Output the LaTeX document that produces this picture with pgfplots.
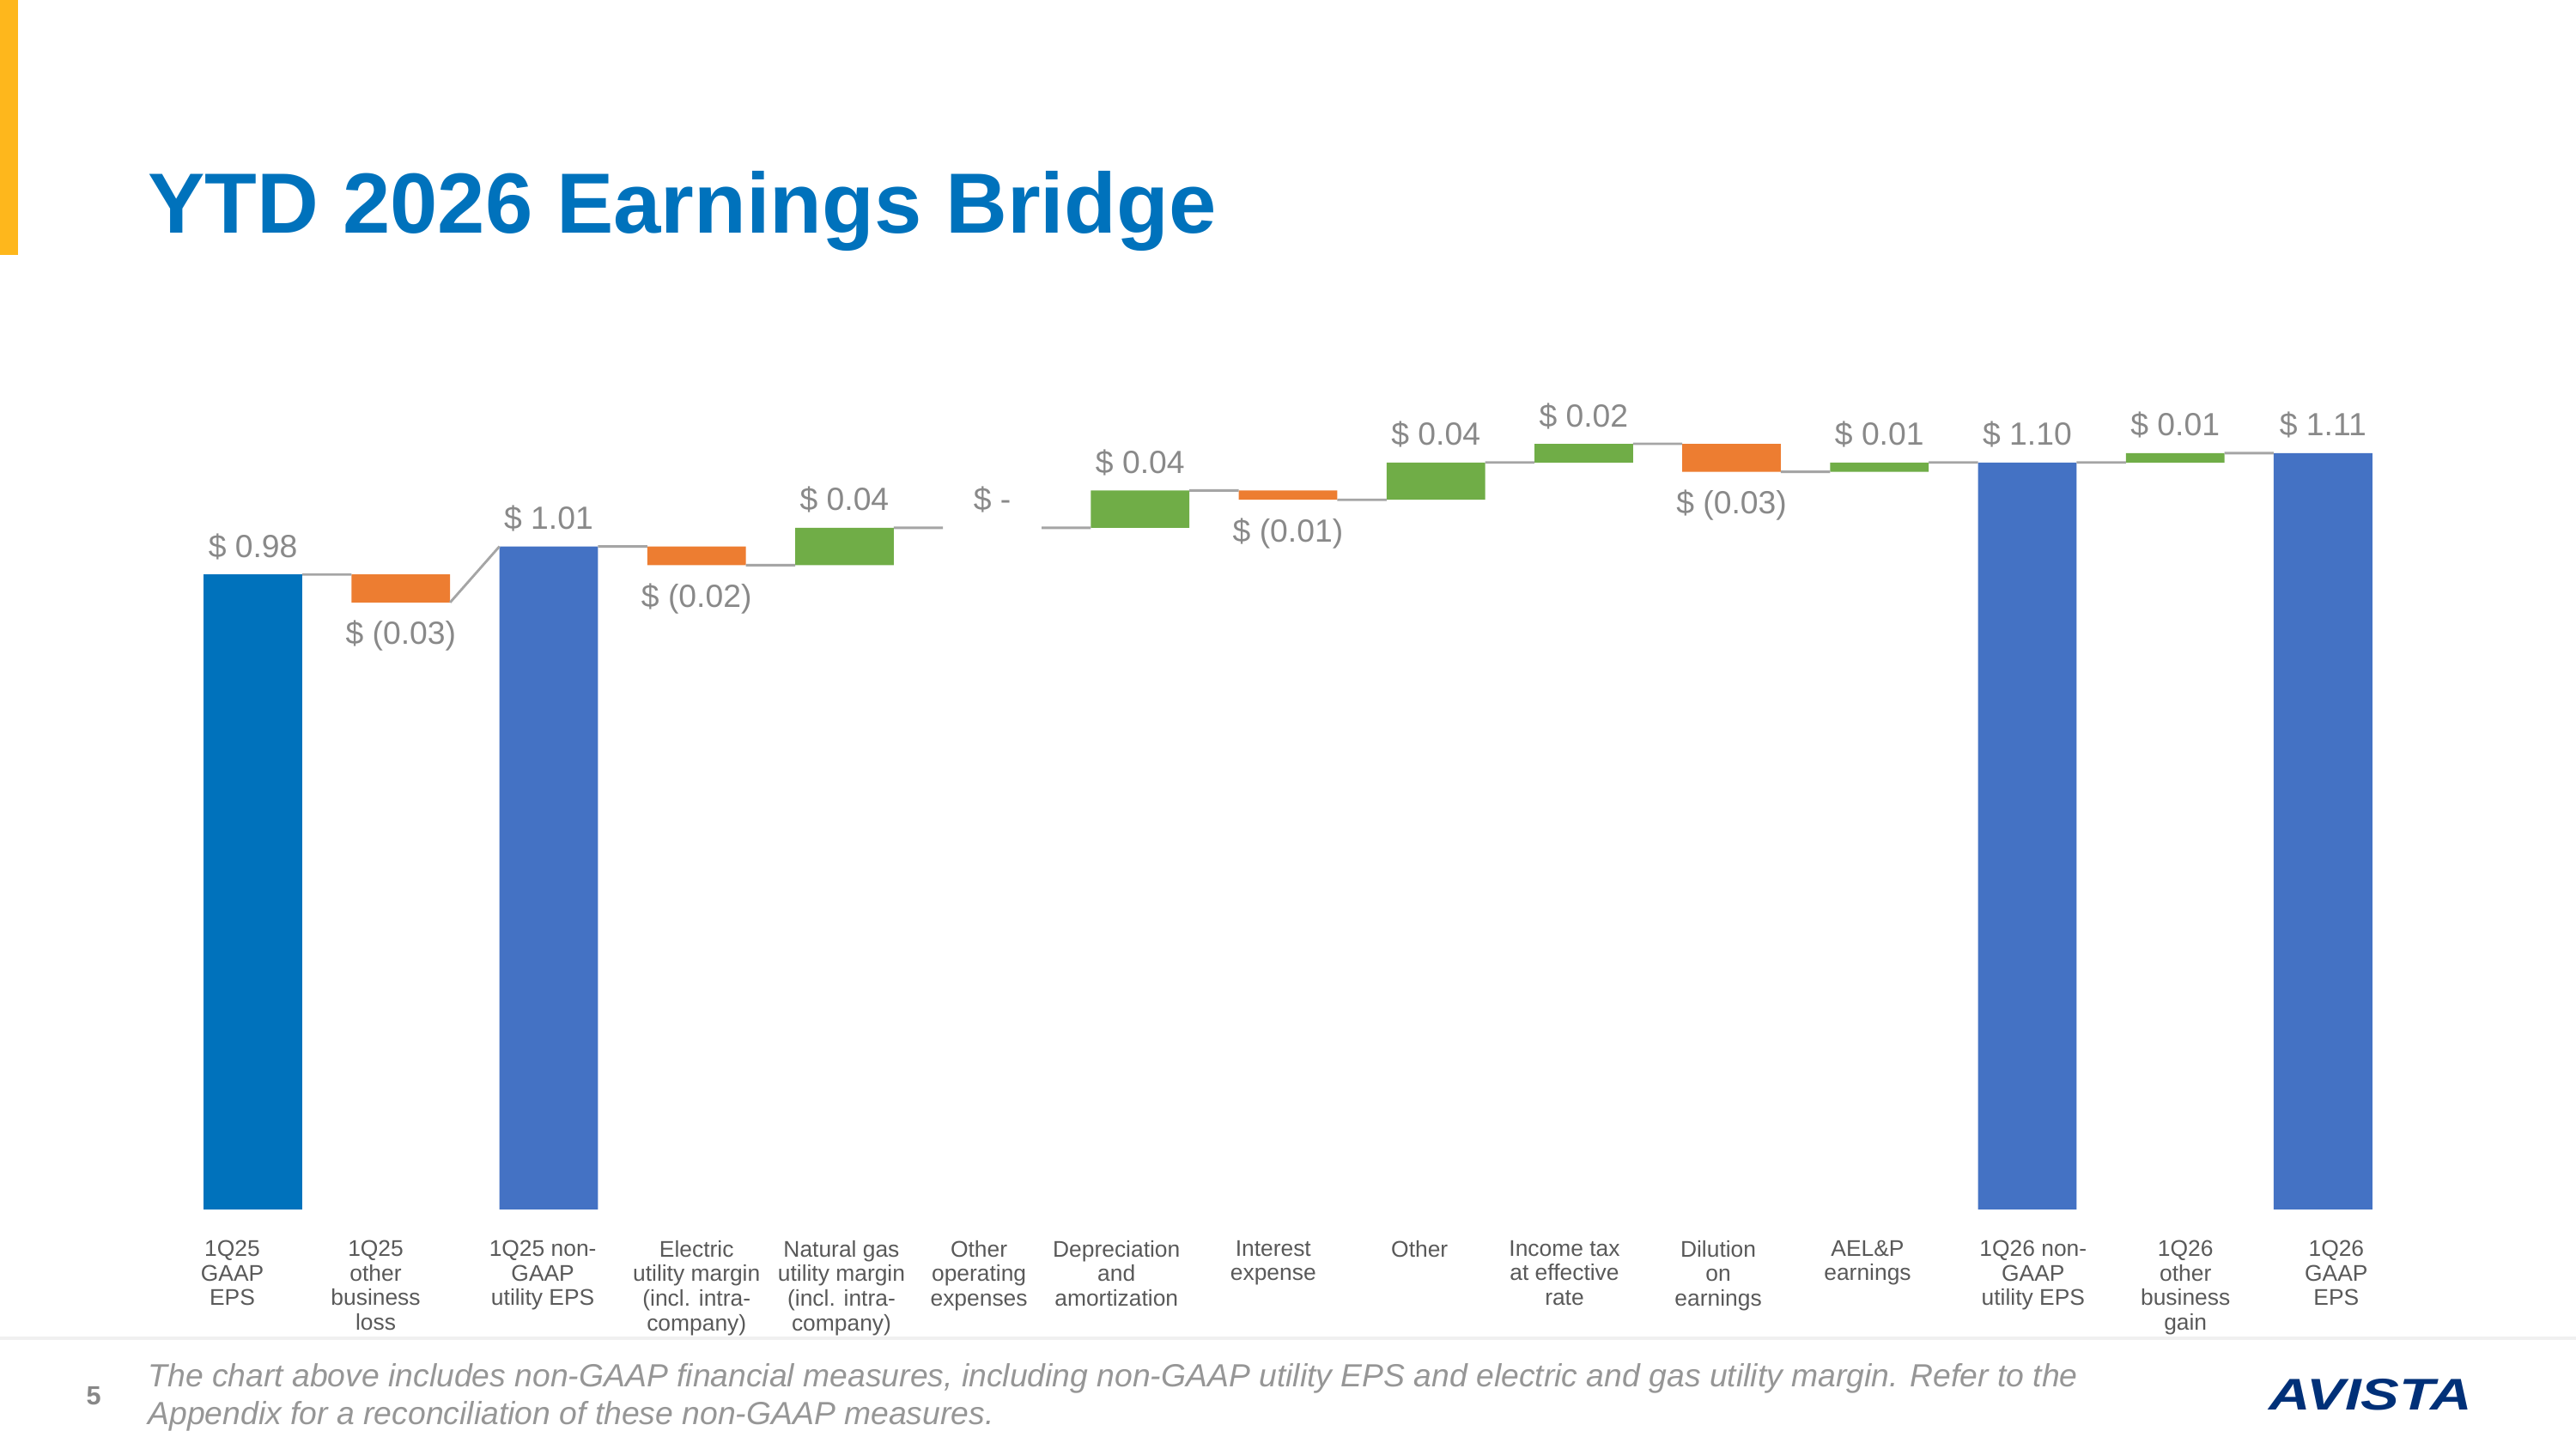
\documentclass[border=0pt]{standalone}
\usepackage{fontspec}
\setmainfont{Liberation Sans}
\usepackage{graphicx}
\usepackage{pgfplots}
\usepackage{pgfplotstable}
\pgfplotsset{compat=1.18}

\definecolor{avblue}{RGB}{0,114,188}
\definecolor{totblue}{RGB}{68,114,196}
\definecolor{negor}{RGB}{237,125,49}
\definecolor{posgr}{RGB}{112,173,71}
\definecolor{lblgray}{RGB}{137,137,137}
\definecolor{catgray}{RGB}{89,89,89}
\definecolor{conngray}{RGB}{165,165,165}
\definecolor{avgold}{RGB}{254,183,28}
\definecolor{footgray}{RGB}{150,150,150}
\definecolor{navy}{RGB}{0,48,120}

\pgfplotstableread{
x base first total neg pos
0 0 0.98 0 0 0
1 0.95 0 0 0.03 0
2 0 0 1.01 0 0
3 0.99 0 0 0.02 0
4 0.99 0 0 0 0.04
5 1.03 0 0 0 0
6 1.03 0 0 0 0.04
7 1.06 0 0 0.01 0
8 1.06 0 0 0 0.04
9 1.10 0 0 0 0.02
10 1.09 0 0 0.03 0
11 1.09 0 0 0 0.01
12 0 0 1.10 0 0
13 1.10 0 0 0 0.01
14 0 0 1.11 0 0
}\bars

\pgfplotstableread{
x y
0.3333 0.98
0.6667 0.98
1 nan
1.3333 0.95
1.6667 1.01
2 nan
2.3333 1.01
2.6667 1.01
3 nan
3.3333 0.99
3.6667 0.99
4 nan
4.3333 1.03
4.6667 1.03
5 nan
5.3333 1.03
5.6667 1.03
6 nan
6.3333 1.07
6.6667 1.07
7 nan
7.3333 1.06
7.6667 1.06
8 nan
8.3333 1.10
8.6667 1.10
9 nan
9.3333 1.12
9.6667 1.12
10 nan
10.3333 1.09
10.6667 1.09
11 nan
11.3333 1.10
11.6667 1.10
12 nan
12.3333 1.10
12.6667 1.10
13 nan
13.3333 1.11
13.6667 1.11
}\conn

\pgfplotstableread[col sep=comma]{
x,y,label
0,0.98,\$ 0.98
2,1.01,\$ 1.01
4,1.03,\$ 0.04
5,1.03,\$ -
6,1.07,\$ 0.04
8,1.10,\$ 0.04
9,1.12,\$ 0.02
11,1.10,\$ 0.01
12,1.10,\$ 1.10
13,1.11,\$ 0.01
14,1.11,\$ 1.11
}\abovelbl

\pgfplotstableread[col sep=comma]{
x,y,label
1,0.95,\$ (0.03)
3,0.99,\$ (0.02)
7,1.06,\$ (0.01)
10,1.09,\$ (0.03)
}\belowlbl

\pgfplotsset{myaxis/.style={
  scale only axis, width=1440pt, height=511.2pt,
  xmin=-1, xmax=15, ymin=0.3, ymax=1.2,
  axis line style={draw=none}, ytick=\empty,
  major tick length=0pt,
  at={(64pt,-736pt)}, anchor=south west}}

\begin{document}
\begin{tikzpicture}
\path[fill=white, use as bounding box] (0,0) rectangle (1568pt,-882pt);
\fill[avgold] (0,0) rectangle (11pt,-155pt);
\node[anchor=base west, inner sep=0, text=avblue,
  font=\fontsize{52}{60}\selectfont\bfseries] at (90pt,-142pt) {YTD 2026 Earnings Bridge};

\begin{axis}[myaxis, ybar stacked, bar width=0.6667, xtick=\empty]
\addplot[draw=none, fill=none] table[x=x, y=base] {\bars};
\addplot[draw=none, fill=avblue] table[x=x, y=first] {\bars};
\addplot[draw=none, fill=totblue] table[x=x, y=total] {\bars};
\addplot[draw=none, fill=negor] table[x=x, y=neg] {\bars};
\addplot[draw=none, fill=posgr] table[x=x, y=pos] {\bars};
\end{axis}

\begin{axis}[myaxis, clip=false,
  xtick={-0.14,0.83,1.96,3.0,3.98,4.91,5.84,6.9,7.89,8.87,9.91,10.92,12.04,13.07,14.09},
  xticklabels={{1Q25\\GAAP\\EPS},{1Q25\\other\\business\\loss},{1Q25 non-\\GAAP\\utility EPS},
    {Electric\\utility margin\\(incl. intra-\\company)},{Natural gas\\utility margin\\(incl. intra-\\company)},
    {Other\\operating\\expenses},{Depreciation\\and\\amortization},{Interest\\expense},{Other},
    {Income tax\\at effective\\rate},{Dilution\\on\\earnings},{AEL\&P\\earnings},
    {1Q26 non-\\GAAP\\utility EPS},{1Q26\\other\\business\\gain},{1Q26\\GAAP\\EPS}},
  xticklabel style={anchor=north, align=center, inner sep=0pt, yshift=-19pt,
    text=catgray, font=\fontsize{13.8}{15}\selectfont},
  unbounded coords=jump]
\addplot[conngray, line width=1.5pt] table[x=x, y=y] {\conn};
\addplot[draw=none, mark=none, nodes near coords, point meta=explicit symbolic,
  nodes near coords style={anchor=center, yshift=17pt, text=lblgray,
    font=\fontsize{19.5}{20}\selectfont}] table[x=x, y=y, meta=label] {\abovelbl};
\addplot[draw=none, mark=none, nodes near coords, point meta=explicit symbolic,
  nodes near coords style={anchor=center, yshift=-20.5pt, text=lblgray,
    font=\fontsize{19.5}{20}\selectfont}] table[x=x, y=y, meta=label] {\belowlbl};
\end{axis}

\draw[black!6, line width=2pt] (0,-815pt) -- (1568pt,-815pt);
\node[text=footgray!90!black, font=\fontsize{16}{16}\selectfont\bfseries] at (57pt,-850pt) {5};
\node[anchor=north west, align=left, inner sep=0, text=footgray,
  font=\fontsize{19.5}{23}\selectfont\itshape] at (90pt,-830pt)
  {The chart above includes non-GAAP financial measures, including non-GAAP utility EPS and electric and gas utility margin. Refer to the\\Appendix for a reconciliation of these non-GAAP measures.};
\node[text=navy, inner sep=0, font=\fontsize{27}{27}\selectfont\bfseries\itshape] at (1443pt,-849pt)
  {\scalebox{1.3}[1]{AVISTA}};
\end{tikzpicture}
\end{document}
